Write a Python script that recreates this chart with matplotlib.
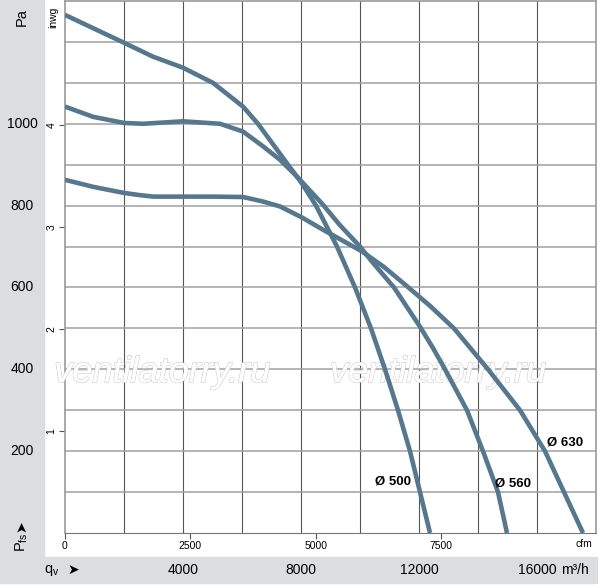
import numpy as np
import matplotlib
matplotlib.use("agg")
import matplotlib.pyplot as plt
from matplotlib.patches import Rectangle
from matplotlib.transforms import blended_transform_factory
import matplotlib.patheffects as pe

NARROW = ['Liberation Sans Narrow', 'Liberation Sans', 'DejaVu Sans']
plt.rcParams['font.family'] = NARROW

# fan curves, flow in m3/h, static pressure in Pa
q_500 = [0, 2000, 2983, 4000, 5017, 6034, 6542, 7559, 8024, 8508, 9220, 9831,
         10373, 10847, 11288, 11695, 12034, 12373]
p_500 = [1266, 1198, 1164, 1137, 1100, 1042, 1000, 900, 855, 800, 700, 600,
         500, 400, 300, 200, 100, 0]

q_560 = [0, 949, 2000, 2644, 4000, 5254, 6034, 6712, 7288, 7864, 8712, 9322,
         10000, 10441, 11153, 12034, 12475, 12881, 13627, 14169, 14678, 14983]
p_560 = [1042, 1017, 1002, 1000, 1006, 1000, 981, 945, 912, 871, 805, 752,
         700, 660, 600, 504, 452, 400, 300, 200, 100, 0]

q_630 = [0, 949, 2000, 2500, 2983, 4000, 5017, 6034, 6712, 7288, 8034, 8746, 9424,
         10068, 10814, 11593, 12373, 13186, 14339, 15424, 16271, 16915, 17559]
p_630 = [863, 846, 831, 826, 822, 822, 822, 821, 810, 798, 771, 741, 714,
         688, 650, 603, 555, 500, 400, 300, 200, 100, 0]

curve_names = ['Ø 500', 'Ø 560', 'Ø 630']
label_pos = [(10520, 127), (14580, 122), (16340, 220)]

pa_ticks = [200, 400, 600, 800, 1000]
inwg_ticks = [1, 2, 3, 4]
cfm_ticks = [0, 2500, 5000, 7500]
m3h_labels = [4000, 8000, 12000, 16000]

PA_PER_INWG = 249.09
M3H_PER_CFM = 1.699

W, H = 600, 588
fig = plt.figure(figsize=(6, 5.88), dpi=100)
band = '#dcdddf'
fig.patches.append(Rectangle((0, 1 - 557 / H), 44 / W, 557 / H, transform=fig.transFigure,
                             color=band, zorder=0))
fig.patches.append(Rectangle((0, 1 - 583 / H), 597 / W, 26 / H, transform=fig.transFigure,
                             color=band, zorder=0))

ax = fig.add_axes([65 / W, 55 / H, 531 / W, 532 / H])
ax.set_xlim(0, 18000)
ax.set_ylim(0, 1300)

for v in range(2000, 18000, 2000):
    ax.axvline(v, color='#555555', lw=0.8, zorder=1)
for h in range(100, 1300, 100):
    ax.axhline(h, color='#a0a0a0', lw=1.1, zorder=1)

for s in ['left', 'right', 'top']:
    ax.spines[s].set_color('#9a9a9a')
    ax.spines[s].set_linewidth(1.2)
ax.spines['bottom'].set_color('#777777')

col = '#56788f'
for q, p in [(q_500, p_500), (q_560, p_560), (q_630, p_630)]:
    ax.plot(q, p, color=col, lw=3.3, solid_capstyle='butt', solid_joinstyle='round', zorder=4)

for name, (lx, ly) in zip(curve_names, label_pos):
    ax.text(lx, ly, name, fontsize=9.5, fontweight='bold', ha='left', va='center', zorder=5)

# watermark
for wx in [3300, 12650]:
    ax.text(wx, 392, 'ventilatorry.ru', family='Liberation Sans', style='italic', fontsize=26,
            color='white', ha='center', va='center', zorder=3,
            path_effects=[pe.withStroke(linewidth=1.0, foreground='#cdcdcd'), pe.Normal()])

# inwg ticks on the left
ax.set_yticks([v * PA_PER_INWG for v in inwg_ticks])
ax.set_yticklabels([str(v) for v in inwg_ticks], rotation=90, va='center', fontsize=7.5)
ax.tick_params(axis='y', direction='out', length=4, width=0.8, color='#555555', pad=2)

# cfm ticks on the bottom
ax.set_xticks([v * M3H_PER_CFM for v in cfm_ticks])
ax.set_xticklabels([str(v) for v in cfm_ticks], fontsize=7.5)
ax.tick_params(axis='x', direction='out', length=4, width=0.8, color='#555555', pad=2)
ax.text(17600, -28, 'cfm', fontsize=7.5, ha='center', va='center', clip_on=False)

# Pa labels in the grey panel
tr_y = blended_transform_factory(fig.transFigure, ax.transData)
for v in pa_ticks:
    fig.text(22 / W, v, str(v), transform=tr_y, fontsize=10, ha='center', va='center')

# m3/h labels in the bottom band
tr_x = blended_transform_factory(ax.transData, fig.transFigure)
yb = 1 - 570 / H
for v in m3h_labels:
    fig.text(v, yb, str(v), transform=tr_x, fontsize=10, ha='center', va='center')
fig.text(561 / W, yb, 'm³/h', fontsize=10, ha='left', va='center')

fig.text(22 / W, 1 - 17 / H, 'Pa', fontsize=10.5, rotation=90, ha='center', va='center')
fig.text(53 / W, 1 - 17 / H, 'inwg', fontsize=7.5, rotation=90, ha='center', va='center')
fig.text(22 / W, 1 - 542 / H, '$\\mathregular{P_{fs}}$', fontsize=10.5, rotation=90,
         ha='center', va='center')
fig.text(21 / W, 1 - 526 / H, '➤', family=['DejaVu Sans'], fontsize=10, rotation=90,
         ha='center', va='center')
fig.text(52 / W, yb, '$\\mathregular{q_v}$', fontsize=10.5, ha='center', va='center')
fig.text(73 / W, yb, '➤', family=['DejaVu Sans'], fontsize=10, ha='center', va='center')

fig.savefig('out.png', dpi=100)
